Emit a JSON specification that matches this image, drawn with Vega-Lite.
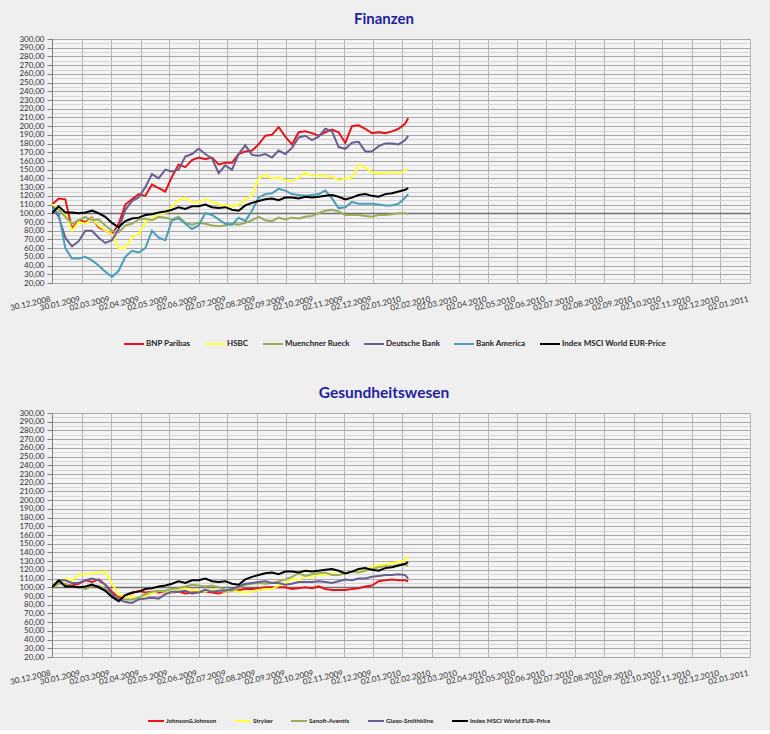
{
"$schema": "https://vega.github.io/schema/vega-lite/v6.json",
"background": "#efefef",
"padding": {"left": 9, "top": 12, "right": 19, "bottom": 5},
"spacing": 130,
"bounds": "flush",
"config": {
  "font": "Lato",
  "locale": {"number": {"decimal": ",", "thousands": ".", "grouping": [3], "currency": ["", " €"]}},
  "view": {"stroke": null, "fill": "#f4f4f4"}
},
"resolve": {"scale": {"color": "independent"}},
"datasets": {
"fin": [
{"s":"BNP Paribas","d":"2008-12-30","v":110},{"s":"BNP Paribas","d":"2009-01-06","v":117},{"s":"BNP Paribas","d":"2009-01-13","v":116},{"s":"BNP Paribas","d":"2009-01-20","v":82},{"s":"BNP Paribas","d":"2009-01-27","v":92},{"s":"BNP Paribas","d":"2009-02-03","v":90},{"s":"BNP Paribas","d":"2009-02-10","v":95},{"s":"BNP Paribas","d":"2009-02-17","v":84},{"s":"BNP Paribas","d":"2009-02-24","v":80},{"s":"BNP Paribas","d":"2009-03-03","v":76},{"s":"BNP Paribas","d":"2009-03-10","v":88},{"s":"BNP Paribas","d":"2009-03-17","v":110},{"s":"BNP Paribas","d":"2009-03-24","v":116},{"s":"BNP Paribas","d":"2009-03-31","v":122},{"s":"BNP Paribas","d":"2009-04-07","v":120},{"s":"BNP Paribas","d":"2009-04-14","v":133},{"s":"BNP Paribas","d":"2009-04-21","v":129},{"s":"BNP Paribas","d":"2009-04-28","v":125},{"s":"BNP Paribas","d":"2009-05-05","v":142},{"s":"BNP Paribas","d":"2009-05-12","v":156},{"s":"BNP Paribas","d":"2009-05-19","v":153},{"s":"BNP Paribas","d":"2009-05-26","v":161},{"s":"BNP Paribas","d":"2009-06-02","v":164},{"s":"BNP Paribas","d":"2009-06-09","v":162},{"s":"BNP Paribas","d":"2009-06-16","v":164},{"s":"BNP Paribas","d":"2009-06-23","v":156},{"s":"BNP Paribas","d":"2009-06-30","v":158},{"s":"BNP Paribas","d":"2009-07-07","v":158},{"s":"BNP Paribas","d":"2009-07-14","v":168},{"s":"BNP Paribas","d":"2009-07-21","v":171},{"s":"BNP Paribas","d":"2009-07-28","v":172},{"s":"BNP Paribas","d":"2009-08-04","v":179},{"s":"BNP Paribas","d":"2009-08-11","v":189},{"s":"BNP Paribas","d":"2009-08-18","v":190},{"s":"BNP Paribas","d":"2009-08-25","v":199},{"s":"BNP Paribas","d":"2009-09-01","v":188},{"s":"BNP Paribas","d":"2009-09-08","v":179},{"s":"BNP Paribas","d":"2009-09-15","v":193},{"s":"BNP Paribas","d":"2009-09-22","v":194},{"s":"BNP Paribas","d":"2009-09-29","v":192},{"s":"BNP Paribas","d":"2009-10-06","v":189},{"s":"BNP Paribas","d":"2009-10-13","v":193},{"s":"BNP Paribas","d":"2009-10-20","v":196},{"s":"BNP Paribas","d":"2009-10-27","v":193},{"s":"BNP Paribas","d":"2009-11-03","v":181},{"s":"BNP Paribas","d":"2009-11-10","v":200},{"s":"BNP Paribas","d":"2009-11-17","v":201},{"s":"BNP Paribas","d":"2009-11-24","v":197},{"s":"BNP Paribas","d":"2009-12-01","v":192},{"s":"BNP Paribas","d":"2009-12-08","v":193},{"s":"BNP Paribas","d":"2009-12-15","v":192},{"s":"BNP Paribas","d":"2009-12-22","v":194},{"s":"BNP Paribas","d":"2009-12-29","v":197},{"s":"BNP Paribas","d":"2010-01-05","v":203},{"s":"BNP Paribas","d":"2010-01-08","v":209},
{"s":"HSBC","d":"2008-12-30","v":110},{"s":"HSBC","d":"2009-01-06","v":106},{"s":"HSBC","d":"2009-01-13","v":100},{"s":"HSBC","d":"2009-01-20","v":80},{"s":"HSBC","d":"2009-01-27","v":90},{"s":"HSBC","d":"2009-02-03","v":88},{"s":"HSBC","d":"2009-02-10","v":94},{"s":"HSBC","d":"2009-02-17","v":86},{"s":"HSBC","d":"2009-02-24","v":80},{"s":"HSBC","d":"2009-03-03","v":76},{"s":"HSBC","d":"2009-03-10","v":60},{"s":"HSBC","d":"2009-03-17","v":60},{"s":"HSBC","d":"2009-03-24","v":72},{"s":"HSBC","d":"2009-03-31","v":76},{"s":"HSBC","d":"2009-04-07","v":90},{"s":"HSBC","d":"2009-04-14","v":94},{"s":"HSBC","d":"2009-04-21","v":100},{"s":"HSBC","d":"2009-04-28","v":100},{"s":"HSBC","d":"2009-05-05","v":108},{"s":"HSBC","d":"2009-05-12","v":115},{"s":"HSBC","d":"2009-05-19","v":118},{"s":"HSBC","d":"2009-05-26","v":113},{"s":"HSBC","d":"2009-06-02","v":112},{"s":"HSBC","d":"2009-06-09","v":116},{"s":"HSBC","d":"2009-06-16","v":113},{"s":"HSBC","d":"2009-06-23","v":110},{"s":"HSBC","d":"2009-06-30","v":109},{"s":"HSBC","d":"2009-07-07","v":108},{"s":"HSBC","d":"2009-07-14","v":110},{"s":"HSBC","d":"2009-07-21","v":116},{"s":"HSBC","d":"2009-07-28","v":120},{"s":"HSBC","d":"2009-08-04","v":140},{"s":"HSBC","d":"2009-08-11","v":144},{"s":"HSBC","d":"2009-08-18","v":140},{"s":"HSBC","d":"2009-08-25","v":141},{"s":"HSBC","d":"2009-09-01","v":138},{"s":"HSBC","d":"2009-09-08","v":137},{"s":"HSBC","d":"2009-09-15","v":141},{"s":"HSBC","d":"2009-09-22","v":146},{"s":"HSBC","d":"2009-09-29","v":143},{"s":"HSBC","d":"2009-10-06","v":143},{"s":"HSBC","d":"2009-10-13","v":143},{"s":"HSBC","d":"2009-10-20","v":142},{"s":"HSBC","d":"2009-10-27","v":138},{"s":"HSBC","d":"2009-11-03","v":140},{"s":"HSBC","d":"2009-11-10","v":141},{"s":"HSBC","d":"2009-11-17","v":156},{"s":"HSBC","d":"2009-11-24","v":152},{"s":"HSBC","d":"2009-12-01","v":147},{"s":"HSBC","d":"2009-12-08","v":146},{"s":"HSBC","d":"2009-12-15","v":146},{"s":"HSBC","d":"2009-12-22","v":147},{"s":"HSBC","d":"2009-12-29","v":146},{"s":"HSBC","d":"2010-01-05","v":149},{"s":"HSBC","d":"2010-01-08","v":151},
{"s":"Muenchner Rueck","d":"2008-12-30","v":108},{"s":"Muenchner Rueck","d":"2009-01-06","v":104},{"s":"Muenchner Rueck","d":"2009-01-13","v":96},{"s":"Muenchner Rueck","d":"2009-01-20","v":88},{"s":"Muenchner Rueck","d":"2009-01-27","v":92},{"s":"Muenchner Rueck","d":"2009-02-03","v":96},{"s":"Muenchner Rueck","d":"2009-02-10","v":92},{"s":"Muenchner Rueck","d":"2009-02-17","v":93},{"s":"Muenchner Rueck","d":"2009-02-24","v":86},{"s":"Muenchner Rueck","d":"2009-03-03","v":80},{"s":"Muenchner Rueck","d":"2009-03-10","v":78},{"s":"Muenchner Rueck","d":"2009-03-17","v":86},{"s":"Muenchner Rueck","d":"2009-03-24","v":88},{"s":"Muenchner Rueck","d":"2009-03-31","v":93},{"s":"Muenchner Rueck","d":"2009-04-07","v":94},{"s":"Muenchner Rueck","d":"2009-04-14","v":92},{"s":"Muenchner Rueck","d":"2009-04-21","v":96},{"s":"Muenchner Rueck","d":"2009-04-28","v":95},{"s":"Muenchner Rueck","d":"2009-05-05","v":93},{"s":"Muenchner Rueck","d":"2009-05-12","v":96},{"s":"Muenchner Rueck","d":"2009-05-19","v":89},{"s":"Muenchner Rueck","d":"2009-05-26","v":87},{"s":"Muenchner Rueck","d":"2009-06-02","v":89},{"s":"Muenchner Rueck","d":"2009-06-09","v":88},{"s":"Muenchner Rueck","d":"2009-06-16","v":86},{"s":"Muenchner Rueck","d":"2009-06-23","v":85},{"s":"Muenchner Rueck","d":"2009-06-30","v":86},{"s":"Muenchner Rueck","d":"2009-07-07","v":88},{"s":"Muenchner Rueck","d":"2009-07-14","v":87},{"s":"Muenchner Rueck","d":"2009-07-21","v":89},{"s":"Muenchner Rueck","d":"2009-07-28","v":92},{"s":"Muenchner Rueck","d":"2009-08-04","v":96},{"s":"Muenchner Rueck","d":"2009-08-11","v":92},{"s":"Muenchner Rueck","d":"2009-08-18","v":91},{"s":"Muenchner Rueck","d":"2009-08-25","v":95},{"s":"Muenchner Rueck","d":"2009-09-01","v":93},{"s":"Muenchner Rueck","d":"2009-09-08","v":95},{"s":"Muenchner Rueck","d":"2009-09-15","v":94},{"s":"Muenchner Rueck","d":"2009-09-22","v":96},{"s":"Muenchner Rueck","d":"2009-09-29","v":97},{"s":"Muenchner Rueck","d":"2009-10-06","v":100},{"s":"Muenchner Rueck","d":"2009-10-13","v":103},{"s":"Muenchner Rueck","d":"2009-10-20","v":104},{"s":"Muenchner Rueck","d":"2009-10-27","v":102},{"s":"Muenchner Rueck","d":"2009-11-03","v":98},{"s":"Muenchner Rueck","d":"2009-11-10","v":98},{"s":"Muenchner Rueck","d":"2009-11-17","v":98},{"s":"Muenchner Rueck","d":"2009-11-24","v":97},{"s":"Muenchner Rueck","d":"2009-12-01","v":96},{"s":"Muenchner Rueck","d":"2009-12-08","v":98},{"s":"Muenchner Rueck","d":"2009-12-15","v":98},{"s":"Muenchner Rueck","d":"2009-12-22","v":99},{"s":"Muenchner Rueck","d":"2009-12-29","v":100},{"s":"Muenchner Rueck","d":"2010-01-05","v":100},{"s":"Muenchner Rueck","d":"2010-01-08","v":99},
{"s":"Deutsche Bank","d":"2008-12-30","v":108},{"s":"Deutsche Bank","d":"2009-01-06","v":96},{"s":"Deutsche Bank","d":"2009-01-13","v":72},{"s":"Deutsche Bank","d":"2009-01-20","v":62},{"s":"Deutsche Bank","d":"2009-01-27","v":68},{"s":"Deutsche Bank","d":"2009-02-03","v":80},{"s":"Deutsche Bank","d":"2009-02-10","v":80},{"s":"Deutsche Bank","d":"2009-02-17","v":72},{"s":"Deutsche Bank","d":"2009-02-24","v":66},{"s":"Deutsche Bank","d":"2009-03-03","v":69},{"s":"Deutsche Bank","d":"2009-03-10","v":82},{"s":"Deutsche Bank","d":"2009-03-17","v":104},{"s":"Deutsche Bank","d":"2009-03-24","v":114},{"s":"Deutsche Bank","d":"2009-03-31","v":118},{"s":"Deutsche Bank","d":"2009-04-07","v":130},{"s":"Deutsche Bank","d":"2009-04-14","v":145},{"s":"Deutsche Bank","d":"2009-04-21","v":140},{"s":"Deutsche Bank","d":"2009-04-28","v":150},{"s":"Deutsche Bank","d":"2009-05-05","v":148},{"s":"Deutsche Bank","d":"2009-05-12","v":150},{"s":"Deutsche Bank","d":"2009-05-19","v":165},{"s":"Deutsche Bank","d":"2009-05-26","v":168},{"s":"Deutsche Bank","d":"2009-06-02","v":174},{"s":"Deutsche Bank","d":"2009-06-09","v":168},{"s":"Deutsche Bank","d":"2009-06-16","v":163},{"s":"Deutsche Bank","d":"2009-06-23","v":146},{"s":"Deutsche Bank","d":"2009-06-30","v":155},{"s":"Deutsche Bank","d":"2009-07-07","v":150},{"s":"Deutsche Bank","d":"2009-07-14","v":168},{"s":"Deutsche Bank","d":"2009-07-21","v":178},{"s":"Deutsche Bank","d":"2009-07-28","v":167},{"s":"Deutsche Bank","d":"2009-08-04","v":166},{"s":"Deutsche Bank","d":"2009-08-11","v":168},{"s":"Deutsche Bank","d":"2009-08-18","v":164},{"s":"Deutsche Bank","d":"2009-08-25","v":172},{"s":"Deutsche Bank","d":"2009-09-01","v":168},{"s":"Deutsche Bank","d":"2009-09-08","v":175},{"s":"Deutsche Bank","d":"2009-09-15","v":187},{"s":"Deutsche Bank","d":"2009-09-22","v":189},{"s":"Deutsche Bank","d":"2009-09-29","v":184},{"s":"Deutsche Bank","d":"2009-10-06","v":188},{"s":"Deutsche Bank","d":"2009-10-13","v":197},{"s":"Deutsche Bank","d":"2009-10-20","v":194},{"s":"Deutsche Bank","d":"2009-10-27","v":176},{"s":"Deutsche Bank","d":"2009-11-03","v":174},{"s":"Deutsche Bank","d":"2009-11-10","v":181},{"s":"Deutsche Bank","d":"2009-11-17","v":182},{"s":"Deutsche Bank","d":"2009-11-24","v":171},{"s":"Deutsche Bank","d":"2009-12-01","v":171},{"s":"Deutsche Bank","d":"2009-12-08","v":177},{"s":"Deutsche Bank","d":"2009-12-15","v":180},{"s":"Deutsche Bank","d":"2009-12-22","v":180},{"s":"Deutsche Bank","d":"2009-12-29","v":179},{"s":"Deutsche Bank","d":"2010-01-05","v":184},{"s":"Deutsche Bank","d":"2010-01-08","v":189},
{"s":"Bank America","d":"2008-12-30","v":105},{"s":"Bank America","d":"2009-01-06","v":100},{"s":"Bank America","d":"2009-01-13","v":60},{"s":"Bank America","d":"2009-01-20","v":48},{"s":"Bank America","d":"2009-01-27","v":48},{"s":"Bank America","d":"2009-02-03","v":50},{"s":"Bank America","d":"2009-02-10","v":46},{"s":"Bank America","d":"2009-02-17","v":40},{"s":"Bank America","d":"2009-02-24","v":33},{"s":"Bank America","d":"2009-03-03","v":27},{"s":"Bank America","d":"2009-03-10","v":34},{"s":"Bank America","d":"2009-03-17","v":50},{"s":"Bank America","d":"2009-03-24","v":57},{"s":"Bank America","d":"2009-03-31","v":55},{"s":"Bank America","d":"2009-04-07","v":60},{"s":"Bank America","d":"2009-04-14","v":80},{"s":"Bank America","d":"2009-04-21","v":72},{"s":"Bank America","d":"2009-04-28","v":69},{"s":"Bank America","d":"2009-05-05","v":92},{"s":"Bank America","d":"2009-05-12","v":94},{"s":"Bank America","d":"2009-05-19","v":88},{"s":"Bank America","d":"2009-05-26","v":82},{"s":"Bank America","d":"2009-06-02","v":86},{"s":"Bank America","d":"2009-06-09","v":100},{"s":"Bank America","d":"2009-06-16","v":98},{"s":"Bank America","d":"2009-06-23","v":93},{"s":"Bank America","d":"2009-06-30","v":88},{"s":"Bank America","d":"2009-07-07","v":87},{"s":"Bank America","d":"2009-07-14","v":95},{"s":"Bank America","d":"2009-07-21","v":91},{"s":"Bank America","d":"2009-07-28","v":103},{"s":"Bank America","d":"2009-08-04","v":118},{"s":"Bank America","d":"2009-08-11","v":122},{"s":"Bank America","d":"2009-08-18","v":123},{"s":"Bank America","d":"2009-08-25","v":128},{"s":"Bank America","d":"2009-09-01","v":126},{"s":"Bank America","d":"2009-09-08","v":122},{"s":"Bank America","d":"2009-09-15","v":121},{"s":"Bank America","d":"2009-09-22","v":120},{"s":"Bank America","d":"2009-09-29","v":121},{"s":"Bank America","d":"2009-10-06","v":122},{"s":"Bank America","d":"2009-10-13","v":126},{"s":"Bank America","d":"2009-10-20","v":117},{"s":"Bank America","d":"2009-10-27","v":106},{"s":"Bank America","d":"2009-11-03","v":107},{"s":"Bank America","d":"2009-11-10","v":113},{"s":"Bank America","d":"2009-11-17","v":111},{"s":"Bank America","d":"2009-11-24","v":111},{"s":"Bank America","d":"2009-12-01","v":111},{"s":"Bank America","d":"2009-12-08","v":110},{"s":"Bank America","d":"2009-12-15","v":109},{"s":"Bank America","d":"2009-12-22","v":109},{"s":"Bank America","d":"2009-12-29","v":111},{"s":"Bank America","d":"2010-01-05","v":118},{"s":"Bank America","d":"2010-01-08","v":122},
{"s":"Index MSCI World EUR-Price","d":"2008-12-30","v":100},{"s":"Index MSCI World EUR-Price","d":"2009-01-06","v":108},{"s":"Index MSCI World EUR-Price","d":"2009-01-13","v":101},{"s":"Index MSCI World EUR-Price","d":"2009-01-20","v":101},{"s":"Index MSCI World EUR-Price","d":"2009-01-27","v":100},{"s":"Index MSCI World EUR-Price","d":"2009-02-03","v":101},{"s":"Index MSCI World EUR-Price","d":"2009-02-10","v":103},{"s":"Index MSCI World EUR-Price","d":"2009-02-17","v":100},{"s":"Index MSCI World EUR-Price","d":"2009-02-24","v":96},{"s":"Index MSCI World EUR-Price","d":"2009-03-03","v":89},{"s":"Index MSCI World EUR-Price","d":"2009-03-10","v":84},{"s":"Index MSCI World EUR-Price","d":"2009-03-17","v":91},{"s":"Index MSCI World EUR-Price","d":"2009-03-24","v":94},{"s":"Index MSCI World EUR-Price","d":"2009-03-31","v":95},{"s":"Index MSCI World EUR-Price","d":"2009-04-07","v":98},{"s":"Index MSCI World EUR-Price","d":"2009-04-14","v":99},{"s":"Index MSCI World EUR-Price","d":"2009-04-21","v":101},{"s":"Index MSCI World EUR-Price","d":"2009-04-28","v":102},{"s":"Index MSCI World EUR-Price","d":"2009-05-05","v":104},{"s":"Index MSCI World EUR-Price","d":"2009-05-12","v":107},{"s":"Index MSCI World EUR-Price","d":"2009-05-19","v":105},{"s":"Index MSCI World EUR-Price","d":"2009-05-26","v":108},{"s":"Index MSCI World EUR-Price","d":"2009-06-02","v":108},{"s":"Index MSCI World EUR-Price","d":"2009-06-09","v":110},{"s":"Index MSCI World EUR-Price","d":"2009-06-16","v":107},{"s":"Index MSCI World EUR-Price","d":"2009-06-23","v":106},{"s":"Index MSCI World EUR-Price","d":"2009-06-30","v":107},{"s":"Index MSCI World EUR-Price","d":"2009-07-07","v":104},{"s":"Index MSCI World EUR-Price","d":"2009-07-14","v":103},{"s":"Index MSCI World EUR-Price","d":"2009-07-21","v":109},{"s":"Index MSCI World EUR-Price","d":"2009-07-28","v":112},{"s":"Index MSCI World EUR-Price","d":"2009-08-04","v":114},{"s":"Index MSCI World EUR-Price","d":"2009-08-11","v":116},{"s":"Index MSCI World EUR-Price","d":"2009-08-18","v":117},{"s":"Index MSCI World EUR-Price","d":"2009-08-25","v":115},{"s":"Index MSCI World EUR-Price","d":"2009-09-01","v":118},{"s":"Index MSCI World EUR-Price","d":"2009-09-08","v":118},{"s":"Index MSCI World EUR-Price","d":"2009-09-15","v":117},{"s":"Index MSCI World EUR-Price","d":"2009-09-22","v":119},{"s":"Index MSCI World EUR-Price","d":"2009-09-29","v":118},{"s":"Index MSCI World EUR-Price","d":"2009-10-06","v":119},{"s":"Index MSCI World EUR-Price","d":"2009-10-13","v":120},{"s":"Index MSCI World EUR-Price","d":"2009-10-20","v":121},{"s":"Index MSCI World EUR-Price","d":"2009-10-27","v":119},{"s":"Index MSCI World EUR-Price","d":"2009-11-03","v":116},{"s":"Index MSCI World EUR-Price","d":"2009-11-10","v":118},{"s":"Index MSCI World EUR-Price","d":"2009-11-17","v":121},{"s":"Index MSCI World EUR-Price","d":"2009-11-24","v":122},{"s":"Index MSCI World EUR-Price","d":"2009-12-01","v":120},{"s":"Index MSCI World EUR-Price","d":"2009-12-08","v":119},{"s":"Index MSCI World EUR-Price","d":"2009-12-15","v":122},{"s":"Index MSCI World EUR-Price","d":"2009-12-22","v":123},{"s":"Index MSCI World EUR-Price","d":"2009-12-29","v":125},{"s":"Index MSCI World EUR-Price","d":"2010-01-05","v":127},{"s":"Index MSCI World EUR-Price","d":"2010-01-08","v":129}
],
"ges": [
{"s":"Johnson&Johnson","d":"2008-12-30","v":100},{"s":"Johnson&Johnson","d":"2009-01-06","v":106},{"s":"Johnson&Johnson","d":"2009-01-13","v":103},{"s":"Johnson&Johnson","d":"2009-01-20","v":102},{"s":"Johnson&Johnson","d":"2009-01-27","v":104},{"s":"Johnson&Johnson","d":"2009-02-03","v":108},{"s":"Johnson&Johnson","d":"2009-02-10","v":106},{"s":"Johnson&Johnson","d":"2009-02-17","v":109},{"s":"Johnson&Johnson","d":"2009-02-24","v":103},{"s":"Johnson&Johnson","d":"2009-03-03","v":95},{"s":"Johnson&Johnson","d":"2009-03-10","v":88},{"s":"Johnson&Johnson","d":"2009-03-17","v":91},{"s":"Johnson&Johnson","d":"2009-03-24","v":93},{"s":"Johnson&Johnson","d":"2009-03-31","v":96},{"s":"Johnson&Johnson","d":"2009-04-07","v":94},{"s":"Johnson&Johnson","d":"2009-04-14","v":95},{"s":"Johnson&Johnson","d":"2009-04-21","v":94},{"s":"Johnson&Johnson","d":"2009-04-28","v":95},{"s":"Johnson&Johnson","d":"2009-05-05","v":94},{"s":"Johnson&Johnson","d":"2009-05-12","v":95},{"s":"Johnson&Johnson","d":"2009-05-19","v":93},{"s":"Johnson&Johnson","d":"2009-05-26","v":94},{"s":"Johnson&Johnson","d":"2009-06-02","v":95},{"s":"Johnson&Johnson","d":"2009-06-09","v":95},{"s":"Johnson&Johnson","d":"2009-06-16","v":94},{"s":"Johnson&Johnson","d":"2009-06-23","v":93},{"s":"Johnson&Johnson","d":"2009-06-30","v":95},{"s":"Johnson&Johnson","d":"2009-07-07","v":96},{"s":"Johnson&Johnson","d":"2009-07-14","v":97},{"s":"Johnson&Johnson","d":"2009-07-21","v":98},{"s":"Johnson&Johnson","d":"2009-07-28","v":98},{"s":"Johnson&Johnson","d":"2009-08-04","v":99},{"s":"Johnson&Johnson","d":"2009-08-11","v":100},{"s":"Johnson&Johnson","d":"2009-08-18","v":100},{"s":"Johnson&Johnson","d":"2009-08-25","v":100},{"s":"Johnson&Johnson","d":"2009-09-01","v":100},{"s":"Johnson&Johnson","d":"2009-09-08","v":98},{"s":"Johnson&Johnson","d":"2009-09-15","v":99},{"s":"Johnson&Johnson","d":"2009-09-22","v":100},{"s":"Johnson&Johnson","d":"2009-09-29","v":99},{"s":"Johnson&Johnson","d":"2009-10-06","v":101},{"s":"Johnson&Johnson","d":"2009-10-13","v":98},{"s":"Johnson&Johnson","d":"2009-10-20","v":97},{"s":"Johnson&Johnson","d":"2009-10-27","v":97},{"s":"Johnson&Johnson","d":"2009-11-03","v":97},{"s":"Johnson&Johnson","d":"2009-11-10","v":98},{"s":"Johnson&Johnson","d":"2009-11-17","v":99},{"s":"Johnson&Johnson","d":"2009-11-24","v":101},{"s":"Johnson&Johnson","d":"2009-12-01","v":102},{"s":"Johnson&Johnson","d":"2009-12-08","v":107},{"s":"Johnson&Johnson","d":"2009-12-15","v":108},{"s":"Johnson&Johnson","d":"2009-12-22","v":109},{"s":"Johnson&Johnson","d":"2009-12-29","v":108},{"s":"Johnson&Johnson","d":"2010-01-05","v":108},{"s":"Johnson&Johnson","d":"2010-01-08","v":107},
{"s":"Stryker","d":"2008-12-30","v":100},{"s":"Stryker","d":"2009-01-06","v":104},{"s":"Stryker","d":"2009-01-13","v":110},{"s":"Stryker","d":"2009-01-20","v":108},{"s":"Stryker","d":"2009-01-27","v":114},{"s":"Stryker","d":"2009-02-03","v":115},{"s":"Stryker","d":"2009-02-10","v":116},{"s":"Stryker","d":"2009-02-17","v":117},{"s":"Stryker","d":"2009-02-24","v":118},{"s":"Stryker","d":"2009-03-03","v":104},{"s":"Stryker","d":"2009-03-10","v":92},{"s":"Stryker","d":"2009-03-17","v":88},{"s":"Stryker","d":"2009-03-24","v":90},{"s":"Stryker","d":"2009-03-31","v":88},{"s":"Stryker","d":"2009-04-07","v":90},{"s":"Stryker","d":"2009-04-14","v":93},{"s":"Stryker","d":"2009-04-21","v":96},{"s":"Stryker","d":"2009-04-28","v":95},{"s":"Stryker","d":"2009-05-05","v":94},{"s":"Stryker","d":"2009-05-12","v":98},{"s":"Stryker","d":"2009-05-19","v":99},{"s":"Stryker","d":"2009-05-26","v":97},{"s":"Stryker","d":"2009-06-02","v":96},{"s":"Stryker","d":"2009-06-09","v":95},{"s":"Stryker","d":"2009-06-16","v":97},{"s":"Stryker","d":"2009-06-23","v":96},{"s":"Stryker","d":"2009-06-30","v":95},{"s":"Stryker","d":"2009-07-07","v":96},{"s":"Stryker","d":"2009-07-14","v":95},{"s":"Stryker","d":"2009-07-21","v":94},{"s":"Stryker","d":"2009-07-28","v":95},{"s":"Stryker","d":"2009-08-04","v":97},{"s":"Stryker","d":"2009-08-11","v":98},{"s":"Stryker","d":"2009-08-18","v":98},{"s":"Stryker","d":"2009-08-25","v":102},{"s":"Stryker","d":"2009-09-01","v":104},{"s":"Stryker","d":"2009-09-08","v":110},{"s":"Stryker","d":"2009-09-15","v":108},{"s":"Stryker","d":"2009-09-22","v":113},{"s":"Stryker","d":"2009-09-29","v":112},{"s":"Stryker","d":"2009-10-06","v":115},{"s":"Stryker","d":"2009-10-13","v":114},{"s":"Stryker","d":"2009-10-20","v":116},{"s":"Stryker","d":"2009-10-27","v":114},{"s":"Stryker","d":"2009-11-03","v":116},{"s":"Stryker","d":"2009-11-10","v":118},{"s":"Stryker","d":"2009-11-17","v":120},{"s":"Stryker","d":"2009-11-24","v":120},{"s":"Stryker","d":"2009-12-01","v":123},{"s":"Stryker","d":"2009-12-08","v":126},{"s":"Stryker","d":"2009-12-15","v":126},{"s":"Stryker","d":"2009-12-22","v":128},{"s":"Stryker","d":"2009-12-29","v":129},{"s":"Stryker","d":"2010-01-05","v":131},{"s":"Stryker","d":"2010-01-08","v":136},
{"s":"Sanofi-Aventis","d":"2008-12-30","v":100},{"s":"Sanofi-Aventis","d":"2009-01-06","v":104},{"s":"Sanofi-Aventis","d":"2009-01-13","v":104},{"s":"Sanofi-Aventis","d":"2009-01-20","v":101},{"s":"Sanofi-Aventis","d":"2009-01-27","v":100},{"s":"Sanofi-Aventis","d":"2009-02-03","v":98},{"s":"Sanofi-Aventis","d":"2009-02-10","v":101},{"s":"Sanofi-Aventis","d":"2009-02-17","v":102},{"s":"Sanofi-Aventis","d":"2009-02-24","v":98},{"s":"Sanofi-Aventis","d":"2009-03-03","v":92},{"s":"Sanofi-Aventis","d":"2009-03-10","v":87},{"s":"Sanofi-Aventis","d":"2009-03-17","v":86},{"s":"Sanofi-Aventis","d":"2009-03-24","v":86},{"s":"Sanofi-Aventis","d":"2009-03-31","v":88},{"s":"Sanofi-Aventis","d":"2009-04-07","v":92},{"s":"Sanofi-Aventis","d":"2009-04-14","v":95},{"s":"Sanofi-Aventis","d":"2009-04-21","v":96},{"s":"Sanofi-Aventis","d":"2009-04-28","v":96},{"s":"Sanofi-Aventis","d":"2009-05-05","v":98},{"s":"Sanofi-Aventis","d":"2009-05-12","v":99},{"s":"Sanofi-Aventis","d":"2009-05-19","v":101},{"s":"Sanofi-Aventis","d":"2009-05-26","v":103},{"s":"Sanofi-Aventis","d":"2009-06-02","v":102},{"s":"Sanofi-Aventis","d":"2009-06-09","v":101},{"s":"Sanofi-Aventis","d":"2009-06-16","v":102},{"s":"Sanofi-Aventis","d":"2009-06-23","v":100},{"s":"Sanofi-Aventis","d":"2009-06-30","v":97},{"s":"Sanofi-Aventis","d":"2009-07-07","v":96},{"s":"Sanofi-Aventis","d":"2009-07-14","v":99},{"s":"Sanofi-Aventis","d":"2009-07-21","v":103},{"s":"Sanofi-Aventis","d":"2009-07-28","v":104},{"s":"Sanofi-Aventis","d":"2009-08-04","v":105},{"s":"Sanofi-Aventis","d":"2009-08-11","v":104},{"s":"Sanofi-Aventis","d":"2009-08-18","v":105},{"s":"Sanofi-Aventis","d":"2009-08-25","v":107},{"s":"Sanofi-Aventis","d":"2009-09-01","v":109},{"s":"Sanofi-Aventis","d":"2009-09-08","v":112},{"s":"Sanofi-Aventis","d":"2009-09-15","v":116},{"s":"Sanofi-Aventis","d":"2009-09-22","v":113},{"s":"Sanofi-Aventis","d":"2009-09-29","v":115},{"s":"Sanofi-Aventis","d":"2009-10-06","v":116},{"s":"Sanofi-Aventis","d":"2009-10-13","v":117},{"s":"Sanofi-Aventis","d":"2009-10-20","v":114},{"s":"Sanofi-Aventis","d":"2009-10-27","v":114},{"s":"Sanofi-Aventis","d":"2009-11-03","v":116},{"s":"Sanofi-Aventis","d":"2009-11-10","v":118},{"s":"Sanofi-Aventis","d":"2009-11-17","v":117},{"s":"Sanofi-Aventis","d":"2009-11-24","v":119},{"s":"Sanofi-Aventis","d":"2009-12-01","v":121},{"s":"Sanofi-Aventis","d":"2009-12-08","v":123},{"s":"Sanofi-Aventis","d":"2009-12-15","v":124},{"s":"Sanofi-Aventis","d":"2009-12-22","v":124},{"s":"Sanofi-Aventis","d":"2009-12-29","v":126},{"s":"Sanofi-Aventis","d":"2010-01-05","v":126},{"s":"Sanofi-Aventis","d":"2010-01-08","v":125},
{"s":"Glaxo-Smithkline","d":"2008-12-30","v":100},{"s":"Glaxo-Smithkline","d":"2009-01-06","v":108},{"s":"Glaxo-Smithkline","d":"2009-01-13","v":108},{"s":"Glaxo-Smithkline","d":"2009-01-20","v":105},{"s":"Glaxo-Smithkline","d":"2009-01-27","v":105},{"s":"Glaxo-Smithkline","d":"2009-02-03","v":108},{"s":"Glaxo-Smithkline","d":"2009-02-10","v":110},{"s":"Glaxo-Smithkline","d":"2009-02-17","v":108},{"s":"Glaxo-Smithkline","d":"2009-02-24","v":103},{"s":"Glaxo-Smithkline","d":"2009-03-03","v":92},{"s":"Glaxo-Smithkline","d":"2009-03-10","v":86},{"s":"Glaxo-Smithkline","d":"2009-03-17","v":83},{"s":"Glaxo-Smithkline","d":"2009-03-24","v":82},{"s":"Glaxo-Smithkline","d":"2009-03-31","v":86},{"s":"Glaxo-Smithkline","d":"2009-04-07","v":87},{"s":"Glaxo-Smithkline","d":"2009-04-14","v":88},{"s":"Glaxo-Smithkline","d":"2009-04-21","v":87},{"s":"Glaxo-Smithkline","d":"2009-04-28","v":92},{"s":"Glaxo-Smithkline","d":"2009-05-05","v":95},{"s":"Glaxo-Smithkline","d":"2009-05-12","v":95},{"s":"Glaxo-Smithkline","d":"2009-05-19","v":96},{"s":"Glaxo-Smithkline","d":"2009-05-26","v":93},{"s":"Glaxo-Smithkline","d":"2009-06-02","v":94},{"s":"Glaxo-Smithkline","d":"2009-06-09","v":97},{"s":"Glaxo-Smithkline","d":"2009-06-16","v":95},{"s":"Glaxo-Smithkline","d":"2009-06-23","v":96},{"s":"Glaxo-Smithkline","d":"2009-06-30","v":96},{"s":"Glaxo-Smithkline","d":"2009-07-07","v":98},{"s":"Glaxo-Smithkline","d":"2009-07-14","v":101},{"s":"Glaxo-Smithkline","d":"2009-07-21","v":104},{"s":"Glaxo-Smithkline","d":"2009-07-28","v":105},{"s":"Glaxo-Smithkline","d":"2009-08-04","v":106},{"s":"Glaxo-Smithkline","d":"2009-08-11","v":107},{"s":"Glaxo-Smithkline","d":"2009-08-18","v":105},{"s":"Glaxo-Smithkline","d":"2009-08-25","v":105},{"s":"Glaxo-Smithkline","d":"2009-09-01","v":103},{"s":"Glaxo-Smithkline","d":"2009-09-08","v":104},{"s":"Glaxo-Smithkline","d":"2009-09-15","v":106},{"s":"Glaxo-Smithkline","d":"2009-09-22","v":106},{"s":"Glaxo-Smithkline","d":"2009-09-29","v":106},{"s":"Glaxo-Smithkline","d":"2009-10-06","v":107},{"s":"Glaxo-Smithkline","d":"2009-10-13","v":106},{"s":"Glaxo-Smithkline","d":"2009-10-20","v":105},{"s":"Glaxo-Smithkline","d":"2009-10-27","v":107},{"s":"Glaxo-Smithkline","d":"2009-11-03","v":109},{"s":"Glaxo-Smithkline","d":"2009-11-10","v":108},{"s":"Glaxo-Smithkline","d":"2009-11-17","v":110},{"s":"Glaxo-Smithkline","d":"2009-11-24","v":110},{"s":"Glaxo-Smithkline","d":"2009-12-01","v":112},{"s":"Glaxo-Smithkline","d":"2009-12-08","v":113},{"s":"Glaxo-Smithkline","d":"2009-12-15","v":114},{"s":"Glaxo-Smithkline","d":"2009-12-22","v":114},{"s":"Glaxo-Smithkline","d":"2009-12-29","v":115},{"s":"Glaxo-Smithkline","d":"2010-01-05","v":114},{"s":"Glaxo-Smithkline","d":"2010-01-08","v":110},
{"s":"Index MSCI World EUR-Price","d":"2008-12-30","v":100},{"s":"Index MSCI World EUR-Price","d":"2009-01-06","v":108},{"s":"Index MSCI World EUR-Price","d":"2009-01-13","v":101},{"s":"Index MSCI World EUR-Price","d":"2009-01-20","v":101},{"s":"Index MSCI World EUR-Price","d":"2009-01-27","v":100},{"s":"Index MSCI World EUR-Price","d":"2009-02-03","v":101},{"s":"Index MSCI World EUR-Price","d":"2009-02-10","v":103},{"s":"Index MSCI World EUR-Price","d":"2009-02-17","v":100},{"s":"Index MSCI World EUR-Price","d":"2009-02-24","v":96},{"s":"Index MSCI World EUR-Price","d":"2009-03-03","v":89},{"s":"Index MSCI World EUR-Price","d":"2009-03-10","v":84},{"s":"Index MSCI World EUR-Price","d":"2009-03-17","v":91},{"s":"Index MSCI World EUR-Price","d":"2009-03-24","v":94},{"s":"Index MSCI World EUR-Price","d":"2009-03-31","v":95},{"s":"Index MSCI World EUR-Price","d":"2009-04-07","v":98},{"s":"Index MSCI World EUR-Price","d":"2009-04-14","v":99},{"s":"Index MSCI World EUR-Price","d":"2009-04-21","v":101},{"s":"Index MSCI World EUR-Price","d":"2009-04-28","v":102},{"s":"Index MSCI World EUR-Price","d":"2009-05-05","v":104},{"s":"Index MSCI World EUR-Price","d":"2009-05-12","v":107},{"s":"Index MSCI World EUR-Price","d":"2009-05-19","v":105},{"s":"Index MSCI World EUR-Price","d":"2009-05-26","v":108},{"s":"Index MSCI World EUR-Price","d":"2009-06-02","v":108},{"s":"Index MSCI World EUR-Price","d":"2009-06-09","v":110},{"s":"Index MSCI World EUR-Price","d":"2009-06-16","v":107},{"s":"Index MSCI World EUR-Price","d":"2009-06-23","v":106},{"s":"Index MSCI World EUR-Price","d":"2009-06-30","v":107},{"s":"Index MSCI World EUR-Price","d":"2009-07-07","v":104},{"s":"Index MSCI World EUR-Price","d":"2009-07-14","v":103},{"s":"Index MSCI World EUR-Price","d":"2009-07-21","v":109},{"s":"Index MSCI World EUR-Price","d":"2009-07-28","v":112},{"s":"Index MSCI World EUR-Price","d":"2009-08-04","v":114},{"s":"Index MSCI World EUR-Price","d":"2009-08-11","v":116},{"s":"Index MSCI World EUR-Price","d":"2009-08-18","v":117},{"s":"Index MSCI World EUR-Price","d":"2009-08-25","v":115},{"s":"Index MSCI World EUR-Price","d":"2009-09-01","v":118},{"s":"Index MSCI World EUR-Price","d":"2009-09-08","v":118},{"s":"Index MSCI World EUR-Price","d":"2009-09-15","v":117},{"s":"Index MSCI World EUR-Price","d":"2009-09-22","v":119},{"s":"Index MSCI World EUR-Price","d":"2009-09-29","v":118},{"s":"Index MSCI World EUR-Price","d":"2009-10-06","v":119},{"s":"Index MSCI World EUR-Price","d":"2009-10-13","v":120},{"s":"Index MSCI World EUR-Price","d":"2009-10-20","v":121},{"s":"Index MSCI World EUR-Price","d":"2009-10-27","v":119},{"s":"Index MSCI World EUR-Price","d":"2009-11-03","v":116},{"s":"Index MSCI World EUR-Price","d":"2009-11-10","v":118},{"s":"Index MSCI World EUR-Price","d":"2009-11-17","v":121},{"s":"Index MSCI World EUR-Price","d":"2009-11-24","v":122},{"s":"Index MSCI World EUR-Price","d":"2009-12-01","v":120},{"s":"Index MSCI World EUR-Price","d":"2009-12-08","v":119},{"s":"Index MSCI World EUR-Price","d":"2009-12-15","v":122},{"s":"Index MSCI World EUR-Price","d":"2009-12-22","v":123},{"s":"Index MSCI World EUR-Price","d":"2009-12-29","v":125},{"s":"Index MSCI World EUR-Price","d":"2010-01-05","v":127},{"s":"Index MSCI World EUR-Price","d":"2010-01-08","v":129}
]
},
"vconcat": [
{
  "width": 698, "height": 244,
  "title": {"text": "Finanzen", "fontSize": 15, "fontWeight": "bold", "color": "#1f1f9e", "offset": 8, "anchor": "middle", "frame": "group", "dx": -17, "font": "Lato"},
  "data": {"name": "fin"},
  "mark": {"type": "line", "strokeWidth": 2, "clip": true},
  "encoding": {
    "x": {"field": "d", "type": "temporal",
      "scale": {"type": "utc", "domain": [{"year": 2008, "month": 12, "date": 30, "utc": true}, {"year": 2011, "month": 1, "date": 2, "utc": true}]},
      "axis": {"orient": "bottom", "title": null, "format": "%d.%m.%Y",
        "values": [{"year":2008,"month":12,"date":30,"utc":true},{"year":2009,"month":1,"date":30,"utc":true},{"year":2009,"month":3,"date":2,"utc":true},{"year":2009,"month":4,"date":2,"utc":true},{"year":2009,"month":5,"date":2,"utc":true},{"year":2009,"month":6,"date":2,"utc":true},{"year":2009,"month":7,"date":2,"utc":true},{"year":2009,"month":8,"date":2,"utc":true},{"year":2009,"month":9,"date":2,"utc":true},{"year":2009,"month":10,"date":2,"utc":true},{"year":2009,"month":11,"date":2,"utc":true},{"year":2009,"month":12,"date":2,"utc":true},{"year":2010,"month":1,"date":2,"utc":true},{"year":2010,"month":2,"date":2,"utc":true},{"year":2010,"month":3,"date":2,"utc":true},{"year":2010,"month":4,"date":2,"utc":true},{"year":2010,"month":5,"date":2,"utc":true},{"year":2010,"month":6,"date":2,"utc":true},{"year":2010,"month":7,"date":2,"utc":true},{"year":2010,"month":8,"date":2,"utc":true},{"year":2010,"month":9,"date":2,"utc":true},{"year":2010,"month":10,"date":2,"utc":true},{"year":2010,"month":11,"date":2,"utc":true},{"year":2010,"month":12,"date":2,"utc":true},{"year":2011,"month":1,"date":2,"utc":true}],
        "labelAngle": -13, "labelAlign": "right", "labelBaseline": "middle", "labelPadding": 16, "labelOffset": -2,
        "tickSize": 0, "domain": false, "grid": true, "gridColor": "#b4b4b4", "gridWidth": 1,
        "labelFontSize": 8, "labelColor": "#333333", "labelOverlap": false, "labelFlush": false, "labelBound": false}},
    "y": {"field": "v", "type": "quantitative",
      "scale": {"domain": [20, 300], "nice": false, "zero": false},
      "axis": {"title": null, "values": [20,25,30,35,40,45,50,55,60,65,70,75,80,85,90,95,100,105,110,115,120,125,130,135,140,145,150,155,160,165,170,175,180,185,190,195,200,205,210,215,220,225,230,235,240,245,250,255,260,265,270,275,280,285,290,295,300],
        "labelExpr": "datum.value % 10 === 0 ? replace(format(datum.value, '.2f'), '.', ',') : ''",
        "gridColor": {"condition": [{"test": "datum.value === 100", "value": "#6e6e6e"}, {"test": "datum.value % 10 === 0", "value": "#a8a8a8"}], "value": "#d6d6d6"},
        "gridWidth": {"condition": {"test": "datum.value === 100", "value": 1.5}, "value": 1},
        "tickColor": {"condition": {"test": "datum.value % 10 === 0", "value": "#808080"}, "value": "transparent"},
        "tickSize": 5, "labelPadding": 3, "domainColor": "#808080", "labelFontSize": 8, "labelColor": "#333333",
        "labelOverlap": false, "labelFlush": false, "minExtent": 40, "maxExtent": 40}},
    "color": {"field": "s", "type": "nominal",
      "scale": {"domain": ["BNP Paribas", "HSBC", "Muenchner Rueck", "Deutsche Bank", "Bank America", "Index MSCI World EUR-Price"],
                "range": ["#e8141c", "#ffff33", "#9aad5a", "#6a5d91", "#4b9dba", "#000000"]},
      "legend": {"orient": "none", "legendX": 71, "legendY": 294, "direction": "horizontal", "columns": 6, "title": null,
        "symbolType": "stroke", "symbolSize": 400, "symbolStrokeWidth": 2, "labelFontSize": 8, "labelFontWeight": "bold",
        "labelColor": "#222222", "columnPadding": 10, "labelOffset": 1}}
  }
},
{
  "width": 698, "height": 244,
  "title": {"text": "Gesundheitswesen", "fontSize": 15.5, "fontWeight": "bold", "color": "#1f1f9e", "offset": 8, "anchor": "middle", "frame": "group", "dx": -17, "font": "Lato"},
  "data": {"name": "ges"},
  "mark": {"type": "line", "strokeWidth": 2, "clip": true},
  "encoding": {
    "x": {"field": "d", "type": "temporal",
      "scale": {"type": "utc", "domain": [{"year": 2008, "month": 12, "date": 30, "utc": true}, {"year": 2011, "month": 1, "date": 2, "utc": true}]},
      "axis": {"orient": "bottom", "title": null, "format": "%d.%m.%Y",
        "values": [{"year":2008,"month":12,"date":30,"utc":true},{"year":2009,"month":1,"date":30,"utc":true},{"year":2009,"month":3,"date":2,"utc":true},{"year":2009,"month":4,"date":2,"utc":true},{"year":2009,"month":5,"date":2,"utc":true},{"year":2009,"month":6,"date":2,"utc":true},{"year":2009,"month":7,"date":2,"utc":true},{"year":2009,"month":8,"date":2,"utc":true},{"year":2009,"month":9,"date":2,"utc":true},{"year":2009,"month":10,"date":2,"utc":true},{"year":2009,"month":11,"date":2,"utc":true},{"year":2009,"month":12,"date":2,"utc":true},{"year":2010,"month":1,"date":2,"utc":true},{"year":2010,"month":2,"date":2,"utc":true},{"year":2010,"month":3,"date":2,"utc":true},{"year":2010,"month":4,"date":2,"utc":true},{"year":2010,"month":5,"date":2,"utc":true},{"year":2010,"month":6,"date":2,"utc":true},{"year":2010,"month":7,"date":2,"utc":true},{"year":2010,"month":8,"date":2,"utc":true},{"year":2010,"month":9,"date":2,"utc":true},{"year":2010,"month":10,"date":2,"utc":true},{"year":2010,"month":11,"date":2,"utc":true},{"year":2010,"month":12,"date":2,"utc":true},{"year":2011,"month":1,"date":2,"utc":true}],
        "labelAngle": -13, "labelAlign": "right", "labelBaseline": "middle", "labelPadding": 16, "labelOffset": -2,
        "tickSize": 0, "domain": false, "grid": true, "gridColor": "#b4b4b4", "gridWidth": 1,
        "labelFontSize": 8, "labelColor": "#333333", "labelOverlap": false, "labelFlush": false, "labelBound": false}},
    "y": {"field": "v", "type": "quantitative",
      "scale": {"domain": [20, 300], "nice": false, "zero": false},
      "axis": {"title": null, "values": [20,25,30,35,40,45,50,55,60,65,70,75,80,85,90,95,100,105,110,115,120,125,130,135,140,145,150,155,160,165,170,175,180,185,190,195,200,205,210,215,220,225,230,235,240,245,250,255,260,265,270,275,280,285,290,295,300],
        "labelExpr": "datum.value % 10 === 0 ? replace(format(datum.value, '.2f'), '.', ',') : ''",
        "gridColor": {"condition": [{"test": "datum.value === 100", "value": "#6e6e6e"}, {"test": "datum.value % 10 === 0", "value": "#a8a8a8"}], "value": "#d6d6d6"},
        "gridWidth": {"condition": {"test": "datum.value === 100", "value": 1.5}, "value": 1},
        "tickColor": {"condition": {"test": "datum.value % 10 === 0", "value": "#808080"}, "value": "transparent"},
        "tickSize": 5, "labelPadding": 3, "domainColor": "#808080", "labelFontSize": 8, "labelColor": "#333333",
        "labelOverlap": false, "labelFlush": false, "minExtent": 40, "maxExtent": 40}},
    "color": {"field": "s", "type": "nominal",
      "scale": {"domain": ["Johnson&Johnson", "Stryker", "Sanofi-Aventis", "Glaxo-Smithkline", "Index MSCI World EUR-Price"],
                "range": ["#e8141c", "#ffff33", "#9aad5a", "#6a5d91", "#000000"]},
      "legend": {"orient": "none", "legendX": 95, "legendY": 299, "direction": "horizontal", "columns": 5, "title": null,
        "symbolType": "stroke", "symbolSize": 256, "symbolStrokeWidth": 2, "labelFontSize": 6.2, "labelFontWeight": "bold",
        "labelColor": "#222222", "columnPadding": 14, "labelOffset": 1}}
  }
}
]
}
